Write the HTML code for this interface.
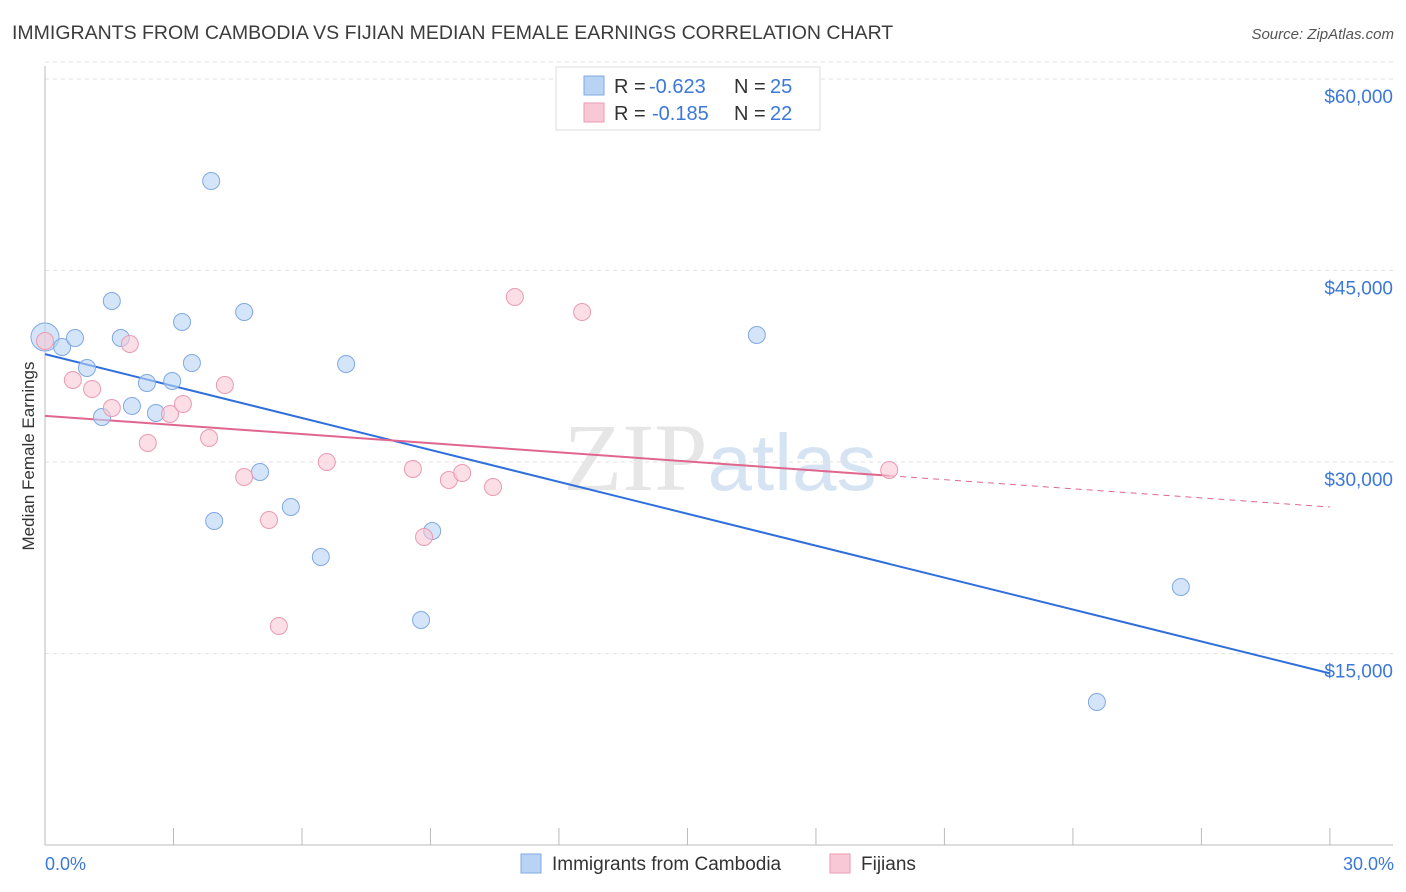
<!DOCTYPE html>
<html><head><meta charset="utf-8">
<style>
body{margin:0;background:#fff;font-family:"Liberation Sans",sans-serif;}
svg{display:block}
</style></head>
<body>
<svg id="chart" width="1406" height="892" xmlns="http://www.w3.org/2000/svg">
<text x="12" y="39" font-size="19.5" fill="#3c3c3c">IMMIGRANTS FROM CAMBODIA VS FIJIAN MEDIAN FEMALE EARNINGS CORRELATION CHART</text>
<text x="1394" y="39" font-size="15" fill="#555" font-style="italic" text-anchor="end">Source: ZipAtlas.com</text>
<text x="720" y="490" font-size="96" text-anchor="middle" fill="#e6e6e6" font-family="Liberation Serif,serif">ZIP<tspan fill="#d5e3f3" font-family="Liberation Sans,sans-serif" font-size="80">atlas</tspan></text>
<g id="grid"></g>
<g id="axes"></g>
<g id="lines"></g>
<g id="points"></g>
<text transform="translate(34,456) rotate(-90)" font-size="17" fill="#333" text-anchor="middle">Median Female Earnings</text>
<text x="45" y="870" font-size="18" fill="#3b78d8">0.0%</text>
<text x="1394" y="870" font-size="18" fill="#3b78d8" text-anchor="end">30.0%</text>
<g>
<rect x="556" y="67" width="264" height="63" fill="#fff" stroke="#ddd"/>
<rect x="584" y="76" width="20" height="19" fill="#b9d3f5" stroke="#7fa9e3"/>
<rect x="584" y="103" width="20" height="19" fill="#f8c8d6" stroke="#eb9ab2"/>
<text x="614" y="93" font-size="20" fill="#333">R = <tspan x="649" fill="#3b78d8">-0.623</tspan><tspan x="734">N = </tspan><tspan x="770" fill="#3b78d8">25</tspan></text>
<text x="614" y="120" font-size="20" fill="#333">R = <tspan x="652" fill="#3b78d8">-0.185</tspan><tspan x="734">N = </tspan><tspan x="770" fill="#3b78d8">22</tspan></text>
</g>
<g>
<rect x="521" y="854" width="20" height="19" fill="#b9d3f5" stroke="#7fa9e3"/>
<text x="552" y="870" font-size="19" fill="#333">Immigrants from Cambodia</text>
<rect x="830" y="854" width="20" height="19" fill="#f8c8d6" stroke="#eb9ab2"/>
<text x="861" y="870" font-size="19" fill="#333">Fijians</text>
</g>
</svg>
<script>
const yTicks=[15000,30000,45000,60000];
const yTickLabels=["$15,000","$30,000","$45,000","$60,000"];
const xTicks=[0,3,6,9,12,15,18,21,24,27,30];
const blueX=[0,0.40,0.70,0.98,1.33,1.56,1.77,2.03,2.38,2.59,2.97,3.20,3.43,3.88,3.95,4.65,5.02,5.74,6.44,7.03,8.78,9.04,16.62,24.56,26.52];
const blueY=[39791,39008,39713,37363,33525,42612,39713,34387,36188,33839,36345,40967,37755,52011,25379,41750,29217,26476,22559,37677,17624,24596,39948,11201,20209];
const pinkX=[0,0.65,1.10,1.56,1.98,2.40,2.92,3.22,3.83,4.20,4.65,5.23,5.46,6.58,8.59,8.85,9.43,9.74,10.46,10.97,12.54,19.71];
const pinkY=[39478,36423,35718,34230,39243,31489,33760,34544,31880,36032,28825,25457,17154,30000,29452,24126,28590,29139,28042,42925,41750,29374];
const NS="http://www.w3.org/2000/svg";
const X=v=>45+v*42.83, Y=v=>845-v*766/60000;
function mk(p,t,a){const e=document.createElementNS(NS,t);for(const k in a)e.setAttribute(k,a[k]);p.appendChild(e);return e;}
const grid=document.getElementById('grid'),axes=document.getElementById('axes'),lines=document.getElementById('lines'),pts=document.getElementById('points');
yTicks.forEach((v,i)=>{
 const l=mk(grid,'line',{x1:45,x2:1393,y1:Y(v),y2:Y(v),stroke:'#e2e2e2','stroke-dasharray':'4,4'});
 
 
 const t=mk(grid,'text',{x:1393,y:Y(v)+24,'font-size':19,fill:'#3b78d8','text-anchor':'end'});
 t.textContent=yTickLabels[i];
 
 
});
const tl=mk(grid,'line',{x1:45,x2:1393,y1:Y(60000)-17,y2:Y(60000)-17,stroke:'#e2e2e2','stroke-dasharray':'4,4'});


const ya=mk(axes,'line',{x1:45,x2:45,y1:66,y2:845,stroke:'#bbb'});


const xa=mk(axes,'line',{x1:45,x2:1393,y1:845,y2:845,stroke:'#bbb'});


xTicks.forEach(v=>{const t=mk(axes,'line',{x1:X(v),x2:X(v),y1:828,y2:845,stroke:'#bbb'});
 
 });
function reg(xs,ys){const n=xs.length;let mx=0,my=0;xs.forEach((x,i)=>{mx+=x;my+=ys[i]});mx/=n;my/=n;let sxy=0,sxx=0;xs.forEach((x,i)=>{sxy+=(x-mx)*(ys[i]-my);sxx+=(x-mx)**2});const b=sxy/sxx;return [my-b*mx,b];}
const [ba,bb]=reg(blueX,blueY);
let l1=mk(lines,'line',{x1:X(0),y1:Y(ba),x2:X(30),y2:Y(ba+bb*30),stroke:'#2f6fdc','stroke-width':2});


const [pa,pb]=reg(pinkX,pinkY);const pm=Math.max(...pinkX);
let l2=mk(lines,'line',{x1:X(0),y1:Y(pa),x2:X(pm),y2:Y(pa+pb*pm),stroke:'#e0668e','stroke-width':2});


let l3=mk(lines,'line',{x1:X(pm),y1:Y(pa+pb*pm),x2:X(30),y2:Y(pa+pb*30),stroke:'#e0668e','stroke-width':1,'stroke-dasharray':'6,5'});


blueX.forEach((x,i)=>{const c=mk(pts,'circle',{cx:X(x),cy:Y(blueY[i]),r:i==0?14:8.5,fill:'#b9d3f5','fill-opacity':0.6,stroke:'#7fa9e3','stroke-width':1});
 
 });
pinkX.forEach((x,i)=>{const c=mk(pts,'circle',{cx:X(x),cy:Y(pinkY[i]),r:8.5,fill:'#f8c8d6','fill-opacity':0.6,stroke:'#eb9ab2','stroke-width':1});
 
 });
</script>
</body></html>
